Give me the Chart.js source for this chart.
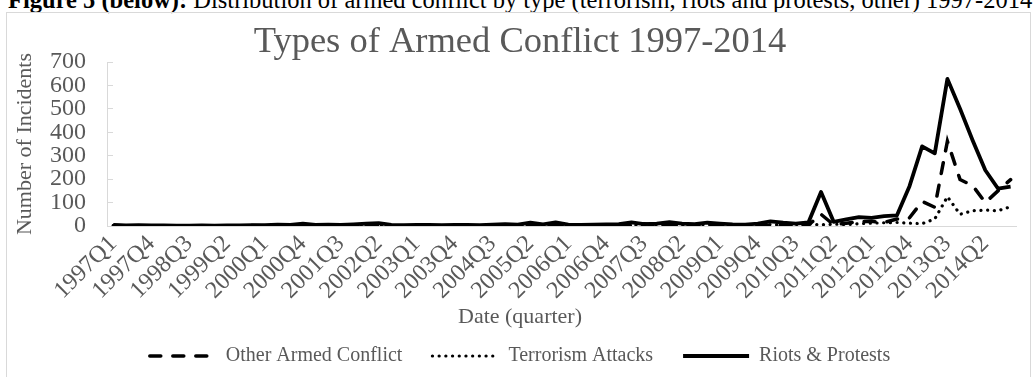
<!DOCTYPE html>
<html>
<head>
<meta charset="utf-8">
<script src="https://cdn.jsdelivr.net/npm/chart.js@4.4.1/dist/chart.umd.min.js"></script>
<style>
  html, body { margin: 0; padding: 0; background: #fff; overflow: hidden; }
  body { width: 1035px; height: 377px; position: relative; font-family: "Liberation Serif", "Times New Roman", serif; }
  #caption { position: absolute; left: 8px; top: -12.5px; font-size: 24.5px; line-height: 24.5px; white-space: nowrap; color: #000; }
  #frame { position: absolute; left: 6px; top: 12px; width: 1023px; height: 420px; border: 1px solid #d9d9d9; }
  #wrap { position: absolute; left: 0; top: 0; width: 1035px; height: 395px; }
</style>
</head>
<body>
<div id="caption"><b>Figure 5 (below):</b> Distribution of armed conflict by type (terrorism, riots and protests, other) 1997-2014</div>
<div id="frame"></div>
<div id="wrap"><canvas id="conflictChart"></canvas></div>
<script>
var quarters = [
  '1997Q1', '1997Q2', '1997Q3', '1997Q4',
  '1998Q1', '1998Q2', '1998Q3', '1998Q4',
  '1999Q1', '1999Q2', '1999Q3', '1999Q4',
  '2000Q1', '2000Q2', '2000Q3', '2000Q4',
  '2001Q1', '2001Q2', '2001Q3', '2001Q4',
  '2002Q1', '2002Q2', '2002Q3', '2002Q4',
  '2003Q1', '2003Q2', '2003Q3', '2003Q4',
  '2004Q1', '2004Q2', '2004Q3', '2004Q4',
  '2005Q1', '2005Q2', '2005Q3', '2005Q4',
  '2006Q1', '2006Q2', '2006Q3', '2006Q4',
  '2007Q1', '2007Q2', '2007Q3', '2007Q4',
  '2008Q1', '2008Q2', '2008Q3', '2008Q4',
  '2009Q1', '2009Q2', '2009Q3', '2009Q4',
  '2010Q1', '2010Q2', '2010Q3', '2010Q4',
  '2011Q1', '2011Q2', '2011Q3', '2011Q4',
  '2012Q1', '2012Q2', '2012Q3', '2012Q4',
  '2013Q1', '2013Q2', '2013Q3', '2013Q4',
  '2014Q1', '2014Q2', '2014Q3', '2014Q4'
];

// Other Armed Conflict (dashed)
var otherConflict = [
  2, 1, 1, 1,   1, 1, 1, 1,   1, 1, 1, 2,   1, 2, 2, 3,
  2, 2, 1, 2,   3, 2, 1, 1,   1, 1, 1, 1,   1, 1, 2, 2,
  2, 3, 2, 3,   2, 2, 2, 3,   3, 3, 10, 4,  3, 3, 2, 3,
  3, 2, 2, 3,   3, 2, 3, 4,   50, 5, 12, 18,  20, 15, 30, 35,
  105, 80, 362, 198,   172, 100, 150, 198
];

// Terrorism Attacks (dotted)
var terrorism = [
  0, 0, 0, 0,   0, 0, 0, 0,   0, 0, 0, 0,   0, 0, 1, 1,
  1, 0, 1, 1,   1, 2, 1, 1,   1, 1, 1, 1,   1, 1, 1, 2,
  3, 3, 4, 4,   3, 4, 3, 4,   3, 4, 5, 6,   5, 4, 5, 6,
  5, 6, 5, 7,   6, 5, 6, 8,   5, 8, 6, 10,  12, 14, 15, 12,
  10, 30, 125, 50,   65, 68, 65, 82
];

// Riots & Protests (solid)
var riots = [
  5, 3, 4, 3,   3, 2, 2, 3,   2, 3, 3, 4,   4, 6, 5, 10,
  5, 6, 5, 7,   10, 12, 5, 4,   5, 5, 4, 5,   5, 4, 6, 8,
  6, 14, 7, 15,   6, 5, 6, 7,   8, 15, 8, 10,   16, 10, 8, 14,
  10, 7, 6, 10,   20, 14, 10, 15,   145, 18, 28, 38,   35, 42, 45, 170,
  340, 310, 628, 500,   365, 238, 160, 168
];

Chart.defaults.font.family = '"Liberation Serif", "Times New Roman", serif';
Chart.defaults.color = '#595959';

var ctx = document.getElementById('conflictChart').getContext('2d');

new Chart(ctx, {
    type: 'line',
    data: {
        labels: quarters,
        datasets: [{
            label: 'Other Armed Conflict',
            data: otherConflict,
            borderColor: '#000000',
            borderWidth: 3.5,
            borderDash: [11, 12],
            borderCapStyle: 'round',
            pointRadius: 0,
            tension: 0,
            fill: false,
        }, {
            label: 'Terrorism Attacks',
            data: terrorism,
            borderColor: '#000000',
            borderWidth: 3.2,
            borderDash: [0.1, 6.6],
            borderCapStyle: 'round',
            pointRadius: 0,
            tension: 0,
            fill: false,
        }, {
            label: 'Riots & Protests',
            data: riots,
            borderColor: '#000000',
            borderWidth: 3.8,
            borderCapStyle: 'butt',
            borderJoinStyle: 'round',
            pointRadius: 0,
            tension: 0,
            fill: false,
        }],
    },
    options: {
        responsive: true,
        maintainAspectRatio: false,
        animation: false,
        layout: {
            padding: { top: 8, left: 10, right: 5, bottom: 19 },
        },
        plugins: {
            title: {
                display: true,
                text: 'Types of Armed Conflict 1997-2014',
                color: '#595959',
                font: { size: 36.5, weight: 'normal', lineHeight: 1 },
                padding: { top: 16, bottom: 1.5 },
            },
            subtitle: {
                display: true,
                position: 'bottom',
                weight: 500,
                text: 'Date (quarter)',
                color: '#595959',
                font: { size: 22, weight: 'normal' },
                padding: { top: 0, bottom: -14.2 },
            },
            legend: {
                display: true,
                position: 'bottom',
                weight: 1000,
                labels: {
                    usePointStyle: true,
                    pointStyleWidth: 66,
                    padding: 30,
                    color: '#595959',
                    font: { size: 20 },
                    generateLabels: function (chart) {
                        return chart.data.datasets.map(function (ds, i) {
                            return {
                                text: ds.label,
                                datasetIndex: i,
                                hidden: false,
                                pointStyle: 'line',
                                strokeStyle: ds.borderColor,
                                fillStyle: ds.borderColor,
                                fontColor: '#595959',
                                lineWidth: ds.borderWidth,
                                lineDash: ds.borderDash || [],
                                lineCap: ds.borderCapStyle || 'butt',
                            };
                        });
                    },
                },
            },
            tooltip: {
                enabled: false,
            },
        },
        scales: {
            x: {
                offset: true,
                grid: { display: false, drawTicks: false },
                border: { display: true, color: '#d9d9d9', width: 1 },
                ticks: {
                    autoSkip: false,
                    maxRotation: 45,
                    minRotation: 45,
                    padding: 4,
                    color: '#595959',
                    font: { size: 24 },
                    callback: function (value, index) {
                        return index % 3 === 0 ? this.getLabelForValue(value) : '';
                    },
                },
                afterFit: function (scale) {
                    scale.height = 77.8;
                },
            },
            y: {
                min: 0,
                max: 700,
                ticks: {
                    stepSize: 100,
                    autoSkip: false,
                    padding: 27,
                    color: '#595959',
                    font: { size: 24 },
                },
                grid: {
                    drawOnChartArea: false,
                    drawTicks: true,
                    tickLength: -6,
                    color: '#d9d9d9',
                },
                border: { color: '#d9d9d9' },
                title: {
                    display: true,
                    text: 'Number of Incidents',
                    color: '#595959',
                    font: { size: 22 },
                    padding: { top: 2.4, bottom: 0 },
                },
                afterFit: function (scale) {
                    scale.width = 97;
                },
            },
        },
    },
});
</script>
</body>
</html>
